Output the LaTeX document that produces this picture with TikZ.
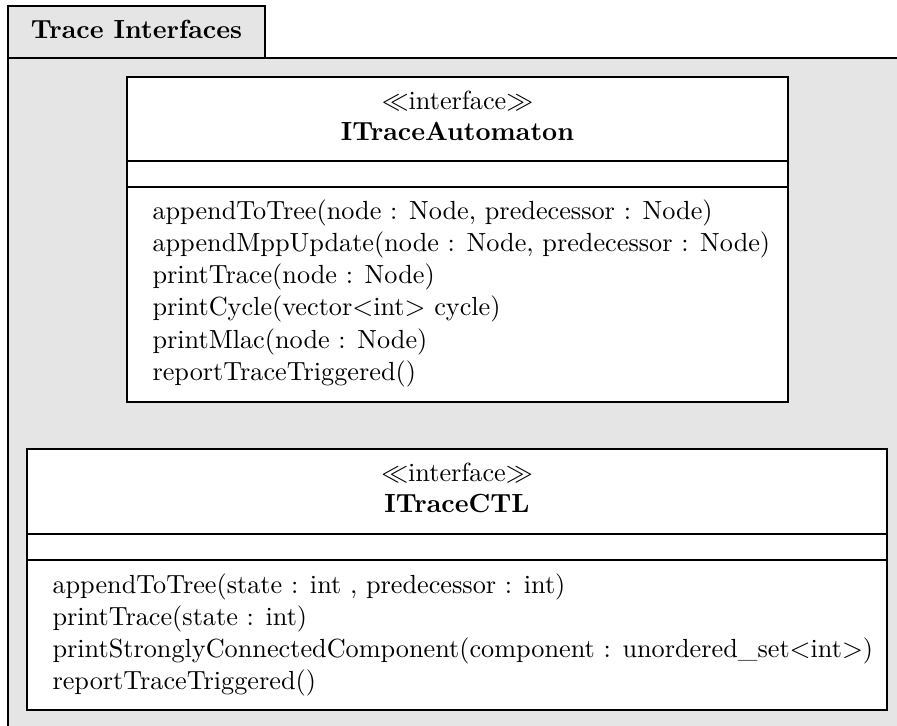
\documentclass[tikz,border=0pt]{standalone}
\definecolor{pkggray}{HTML}{E5E5E5}
\begin{document}
\fontsize{9.75pt}{11.7pt}\selectfont
\begin{tikzpicture}[x=0.3717pt,y=-0.3717pt,
  pkg/.style={draw=black, fill=pkggray, line width=0.5pt},
  cls/.style={draw=black, fill=white, line width=0.5pt},
  sep/.style={draw=black, line width=0.5pt},
  op/.style={anchor=base west, inner sep=0pt},
  hd/.style={anchor=base, inner sep=0pt}]
\useasboundingbox (0,0) rectangle (897,725);
\clip (0,0) rectangle (897,725);
\fill[white] (0,0) rectangle (897,725);
% package
\draw[pkg] (8,58) rectangle (920,745);
\draw[pkg] (8,6) rectangle (265,58);
\node[hd, font=\bfseries] (pkgname) at (136.5,38) {Trace Interfaces};
% ITraceAutomaton
\draw[cls] (127,77) rectangle (788,402);
\draw[sep] (127,161) -- (788,161);
\draw[sep] (127,187) -- (788,187);
\node[hd] (st1) at (457.5,109) {$\ll$interface$\gg$};
\node[hd, font=\bfseries] (n1) at (457.5,140) {ITraceAutomaton};
\node[op] (a1) at (152,219) {appendToTree(node : Node, predecessor : Node)};
\node[op] (a2) at (152,251.3) {appendMppUpdate(node : Node, predecessor : Node)};
\node[op] (a3) at (152,283.6) {printTrace(node : Node)};
\node[op] (a4) at (152,315.9) {printCycle(vector$<$int$>$ cycle)};
\node[op] (a5) at (152,348.2) {printMlac(node : Node)};
\node[op] (a6) at (152,380.5) {reportTraceTriggered()};
% ITraceCTL
\draw[cls] (27,449) rectangle (887,710);
\draw[sep] (27,534) -- (887,534);
\draw[sep] (27,560) -- (887,560);
\node[hd] (st2) at (457,481) {$\ll$interface$\gg$};
\node[hd, font=\bfseries] (n2) at (457,512) {ITraceCTL};
\node[op] (b1) at (52,593) {appendToTree(state : int , predecessor : int)};
\node[op] (b2) at (52,625.3) {printTrace(state : int)};
\node[op] (b3) at (52,657.6) {printStronglyConnectedComponent(component : unordered\_set$<$int$>$)};
\node[op] (b4) at (52,689.9) {reportTraceTriggered()};
\end{tikzpicture}
\end{document}
